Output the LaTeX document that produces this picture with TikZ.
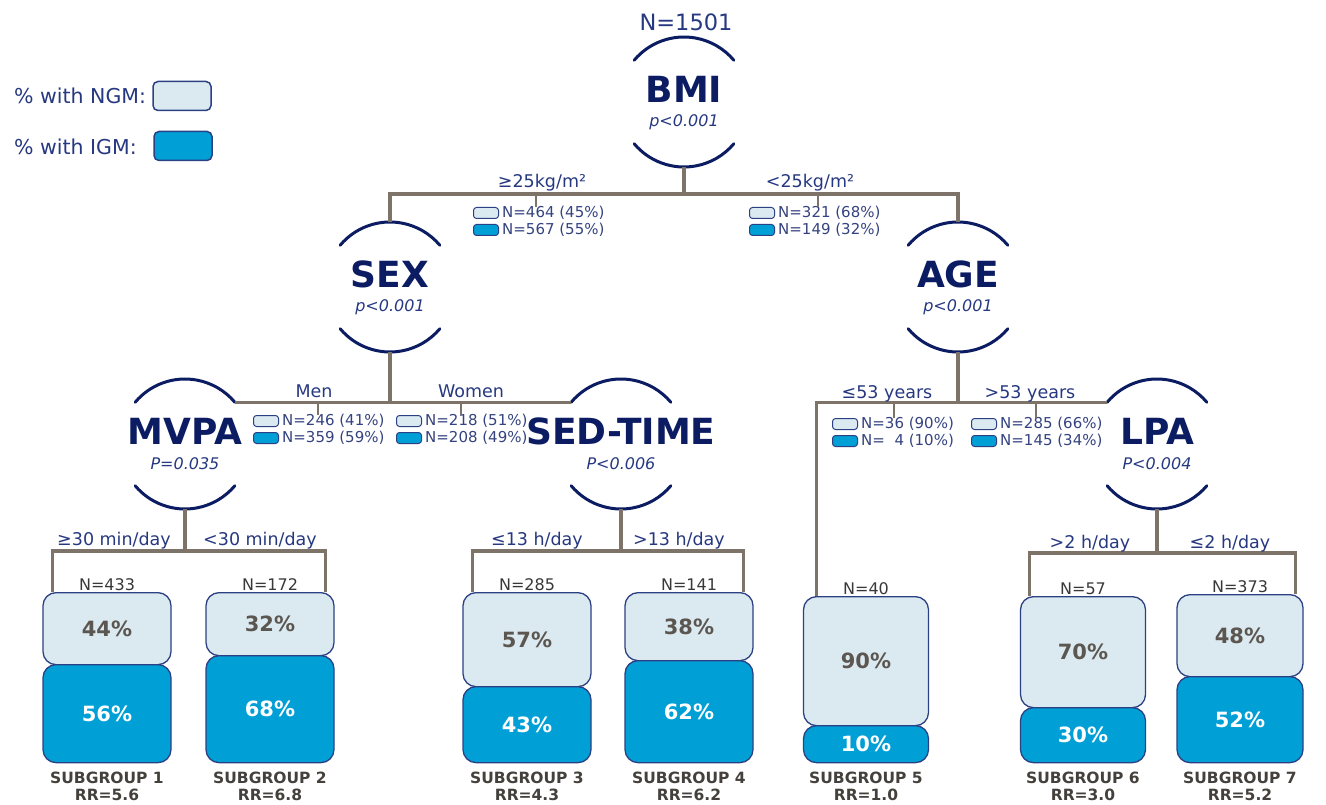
\documentclass[tikz,border=0pt]{standalone}
\usepackage{fontspec}
\setmainfont{DejaVu Sans}
\usetikzlibrary{positioning,calc}

\definecolor{navy}{RGB}{12,28,98}
\definecolor{labnavy}{RGB}{38,56,128}
\definecolor{treegray}{RGB}{125,115,105}
\definecolor{ngmfill}{RGB}{219,234,241}
\definecolor{igmfill}{RGB}{0,159,214}
\definecolor{boxline}{RGB}{44,64,132}
\definecolor{pctgray}{RGB}{92,86,80}
\definecolor{subgray}{RGB}{68,64,60}
\newcommand{\fsz}[1]{\fontsize{#1}{#1}\selectfont}

\begin{document}
\begin{tikzpicture}[x=1pt,y=1pt,
  split/.style={circle,minimum size=130pt,inner sep=0pt,outer sep=0pt},
  arcs/.style={draw=navy,line width=3pt,line cap=round},
  branch/.style={draw=treegray,line width=3.2pt},
  tick/.style={draw=treegray,line width=1.3pt},
  varname/.style={font=\fsz{36}\bfseries,text=navy,inner sep=0pt},
  pval/.style={font=\fsz{16}\itshape,text=labnavy,inner sep=0pt},
  cut/.style={font=\fsz{17.5},text=labnavy,inner sep=0pt,anchor=base},
  minibox/.style={draw=boxline,line width=1pt,rounded corners=3pt,minimum width=25pt,minimum height=11pt,inner sep=0pt,anchor=west},
  mini/.style={font=\fsz{15},text=labnavy!85!gray,inner sep=0pt,anchor=west},
  legbox/.style={draw=boxline,line width=1.5pt,rounded corners=5pt,minimum width=58pt,minimum height=29pt,inner sep=0pt},
  legtxt/.style={font=\fsz{20.5},text=labnavy,inner sep=0pt,anchor=west},
  ngmbox/.style={draw=boxline,line width=1.3pt,fill=ngmfill,rounded corners=13pt,inner sep=0pt,anchor=north,font=\fsz{21}\bfseries,text=pctgray},
  igmbox/.style={draw=boxline,line width=1.3pt,fill=igmfill,rounded corners=13pt,inner sep=0pt,anchor=north,font=\fsz{21}\bfseries,text=white},
  nlab/.style={font=\fsz{16},text=black!78,inner sep=0pt},
  sublab/.style={font=\fontsize{15.5}{17}\selectfont\bfseries,text=subgray,inner sep=0pt,align=center}]
\useasboundingbox (0,0) rectangle (1326,-805);

% legend
\node[legtxt] (lgngm) at (14,-96) {\% with NGM:};
\node[legbox,fill=ngmfill] (lgngmbox) at (182,-96) {};
\node[legtxt] (lgigm) at (14,-147) {\% with IGM:};
\node[legbox,fill=igmfill] (lgigmbox) at (183,-146) {};

% splitting variables
\node[split] (bmi) at (684,-102) {};
\node[split] (sex) at (390,-287) {};
\node[split] (age) at (958,-287) {};
\node[split] (mvpa) at (185,-444) {};
\node[split] (sed) at (621,-444) {};
\node[split] (lpa) at (1157,-444) {};
\foreach \n in {bmi,sex,age,mvpa,sed,lpa}{
  \draw[arcs] (\n.140) arc[start angle=140,end angle=40,radius=65pt];
  \draw[arcs] (\n.220) arc[start angle=220,end angle=320,radius=65pt];
}
\foreach \n/\t/\p in {bmi/BMI/p<0.001, sex/SEX/p<0.001, age/AGE/p<0.001, mvpa/MVPA/P=0.035, sed/SED-TIME/P<0.006, lpa/LPA/P<0.004}{
  \node[varname] (\n-name) at ([yshift=13pt]\n.center) {\t};
  \node[pval] (\n-p) at ([yshift=-20pt]\n.center) {\p};
}
\node[font=\fsz{22.5},text=labnavy,inner sep=0pt] (ntot) at (686,-22) {N=1501};

% subgroups
\foreach \c/\w/\top/\mid/\p/\q/\n/\rr [count=\i] in {107/128/592/664/44/56/433/5.6, 270/128/592/655/32/68/172/6.8, 527/128/592/686/57/43/285/4.3, 689/128/592/660/38/62/141/6.2, 866/125/596/725/90/10/40/1.0, 1083/125/596/707/70/30/57/3.0, 1240/126/594/676/48/52/373/5.2}{
  \node[ngmbox,minimum width=\w,minimum height={\mid-\top}] (sg\i a) at (\c,-\top) {\p\%};
  \node[igmbox,minimum width=\w,minimum height={762-\mid}] (sg\i b) at (\c,-\mid) {\q\%};
  \node[nlab,above=1pt of sg\i a] (sg\i n) {N=\n};
  \node[sublab,below=8pt of sg\i b] (sg\i l) {SUBGROUP \i\\RR=\rr};
}

% branches
\draw[branch] (bmi.south) -- ++(0,-27) coordinate (bmij);
\draw[branch] (sex.north) |- (bmij) -| (age.north);
\draw[branch] (sex.south) -- (sex.south |- mvpa.40);
\draw[branch] (mvpa.40) -- (sed.140);
\draw[branch] (age.south) -- (age.south |- lpa.140);
\draw[branch] (lpa.140) -| ([xshift=14pt]sg5a.north west);
\draw[branch] (mvpa.south) -- ++(0,-42) coordinate (mvpaj);
\draw[branch] ([xshift=10pt]sg1a.north west) |- (mvpaj) -| ([xshift=-9pt]sg2a.north east);
\draw[branch] (sed.south) -- ++(0,-42) coordinate (sedj);
\draw[branch] ([xshift=10pt]sg3a.north west) |- (sedj) -| ([xshift=-10pt]sg4a.north east);
\draw[branch] (lpa.south) -- ++(0,-44) coordinate (lpaj);
\draw[branch] ([xshift=10pt]sg6a.north west) |- (lpaj) -| ([xshift=-8pt]sg7a.north east);

% cut-point labels
\node[cut] (c1) at (542,-188) {≥25kg/m²};
\node[cut] (c2) at (810,-188) {<25kg/m²};
\node[cut] (c3) at (314,-397) {Men};
\node[cut] (c4) at (471,-397) {Women};
\node[cut] (c5) at (887,-398) {≤53 years};
\node[cut] (c6) at (1030,-398) {>53 years};
\node[cut] (c7) at (114,-545) {≥30 min/day};
\node[cut] (c8) at (260,-545) {<30 min/day};
\node[cut] (c9) at (537,-545) {≤13 h/day};
\node[cut] (c10) at (679,-545) {>13 h/day};
\node[cut] (c11) at (1090,-548) {>2 h/day};
\node[cut] (c12) at (1230,-548) {≤2 h/day};

% node counts
\foreach \x/\y/\t/\l/\a/\b [count=\i] in {473/213/536/193/{N=464 (45\%)}/{N=567 (55\%)}, 749/213/818/193/{N=321 (68\%)}/{N=149 (32\%)}, 253/421/318/403/{N=246 (41\%)}/{N=359 (59\%)}, 396/421/461/403/{N=218 (51\%)}/{N=208 (49\%)}, 832/424/894/403/{N=36 (90\%)}/{N=\phantom{3}4 (10\%)}, 971/424/1036/403/{N=285 (66\%)}/{N=145 (34\%)}}{
  \node[minibox,fill=ngmfill] (mb\i a) at (\x,-\y) {};
  \node[minibox,fill=igmfill] (mb\i b) at (\x,-\y-17) {};
  \node[mini] (mt\i a) at ([xshift=3pt]mb\i a.east) {\a};
  \node[mini] (mt\i b) at ([xshift=3pt]mb\i b.east) {\b};
  \draw[tick] (\t,-\l) coordinate (tk\i) -- (tk\i |- mb\i a.north);
}
\end{tikzpicture}
\end{document}
